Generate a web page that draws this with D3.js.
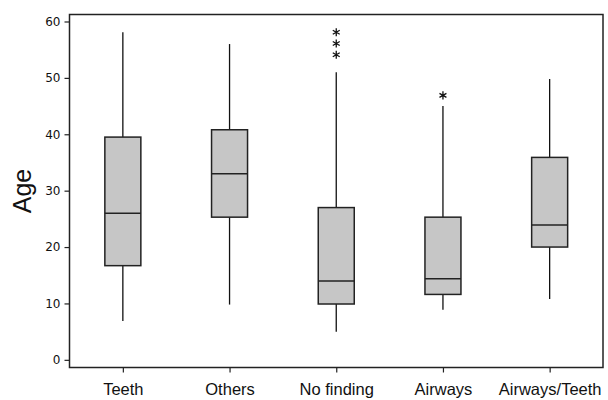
<!DOCTYPE html>
<html><head><meta charset="utf-8">
<script src="https://cdn.jsdelivr.net/npm/d3@7"></script>
<style>body{margin:0;background:#fff;}svg{display:block;}</style>
</head><body>
<svg id="c" width="608" height="400"></svg>
<script>
const categories = ["Teeth", "Others", "No finding", "Airways", "Airways/Teeth"];
const whiskerLow  = [6.9, 9.8, 5.0, 8.9, 10.8];
const q1          = [16.7, 25.3, 9.9, 11.6, 20.0];
const median      = [26.0, 33.0, 14.0, 14.4, 23.9];
const q3          = [39.5, 40.8, 27.0, 25.3, 35.9];
const whiskerHigh = [58.1, 56.0, 51.0, 45.0, 49.8];
const outliers    = [[], [], [54.1, 56.1, 58.1], [46.9], []];
const yTicks      = [0, 10, 20, 30, 40, 50, 60];

const svg = d3.select("#c");
const L = 69.5, R = 603, T = 14.5, B = 367.5;
const x = d3.scalePoint().domain(categories).range([L, R]).padding(0.5);
const y = d3.scaleLinear().domain([-1.36, 61.24]).range([B, T]);

const data = categories.map((c, i) => ({c, lo: whiskerLow[i], q1: q1[i], med: median[i], q3: q3[i], hi: whiskerHigh[i], out: outliers[i]}));
const bw = 36;
const g = svg.append("g");

// whiskers
g.selectAll(".wh").data(data).join("line")
  .attr("x1", d => x(d.c)).attr("x2", d => x(d.c))
  .attr("y1", d => y(d.hi)).attr("y2", d => y(d.q3))
  .attr("stroke", "#111").attr("stroke-width", 1.3);
g.selectAll(".wl").data(data).join("line")
  .attr("x1", d => x(d.c)).attr("x2", d => x(d.c))
  .attr("y1", d => y(d.q1)).attr("y2", d => y(d.lo))
  .attr("stroke", "#111").attr("stroke-width", 1.3);
// boxes
g.selectAll(".box").data(data).join("rect")
  .attr("x", d => x(d.c) - bw / 2).attr("width", bw)
  .attr("y", d => y(d.q3)).attr("height", d => y(d.q1) - y(d.q3))
  .attr("fill", "#c6c6c6").attr("stroke", "#222").attr("stroke-width", 1.5);
g.selectAll(".med").data(data).join("line")
  .attr("x1", d => x(d.c) - bw / 2).attr("x2", d => x(d.c) + bw / 2)
  .attr("y1", d => y(d.med)).attr("y2", d => y(d.med))
  .attr("stroke", "#222").attr("stroke-width", 1.5);
// outliers
const star = d3.symbol().type(d3.symbolAsterisk).size(45);
data.forEach(d => {
  g.selectAll(null).data(d.out).join("path")
    .attr("d", star)
    .attr("transform", v => `translate(${x(d.c)},${y(v)})`)
    .attr("fill", "none").attr("stroke", "#111").attr("stroke-width", 1.3);
});

// frame
svg.append("rect").attr("x", L).attr("y", T).attr("width", R - L).attr("height", B - T)
  .attr("fill", "none").attr("stroke", "#222").attr("stroke-width", 1.5);

// y axis
const ya = svg.append("g").attr("transform", `translate(${L},0)`)
  .call(d3.axisLeft(y).tickValues(yTicks).tickSize(5).tickPadding(4));
ya.select(".domain").remove();
ya.selectAll(".tick line").attr("stroke", "#222").attr("stroke-width", 1.2);
ya.selectAll(".tick text").attr("font-family", "DejaVu Sans, Verdana, sans-serif").attr("font-size", 12).attr("fill", "#111");

// x axis
const xa = svg.append("g").attr("transform", `translate(0,${B})`)
  .call(d3.axisBottom(x).tickSize(5).tickPadding(10.5));
xa.select(".domain").remove();
xa.selectAll(".tick line").attr("stroke", "#222").attr("stroke-width", 1.2);
xa.selectAll(".tick text").attr("font-family", "Liberation Sans, Arial, sans-serif").attr("font-size", 16.5).attr("fill", "#111");

// y label
svg.append("text").attr("transform", `translate(31,${(T + B) / 2}) rotate(-90)`)
  .attr("text-anchor", "middle").attr("font-family", "Liberation Sans, Arial, sans-serif")
  .attr("font-size", 25).attr("fill", "#111").text("Age");
</script>
</body></html>
